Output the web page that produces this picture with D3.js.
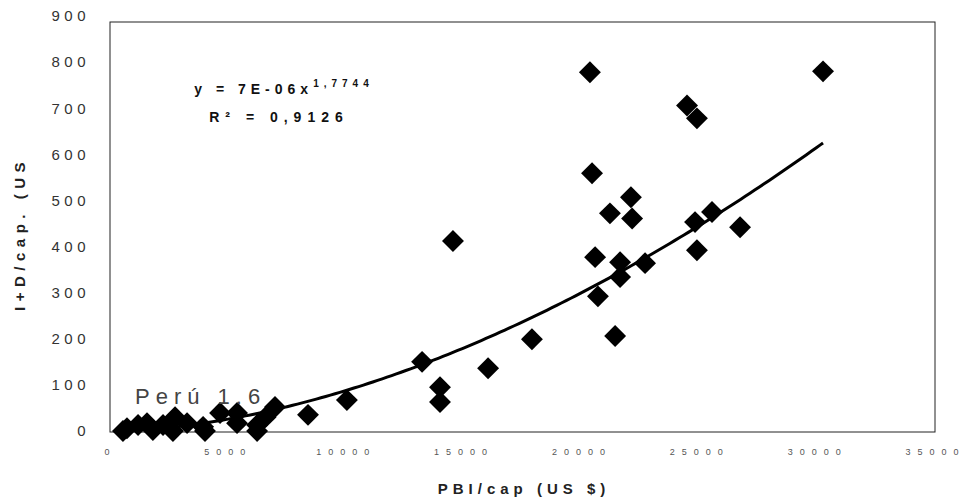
<!DOCTYPE html>
<html>
<head>
<meta charset="utf-8">
<script src="https://cdn.jsdelivr.net/npm/d3@7"></script>
<style>
body { margin: 0; background: #fff; }
svg { display: block; font-family: Arial, "Liberation Sans", sans-serif; }
</style>
</head>
<body>
<svg width="967" height="504"></svg>
<script>
// values (PBI per capita vs I+D per capita)
var pbi = [550, 720, 1190, 1570, 1820, 2250, 2670, 2760, 3270, 3950, 4030, 4670, 5390, 5390, 6240, 6240, 6600, 7000,
           8400, 10050, 13240, 14000, 14000, 14550, 16040, 17900,
           20360, 20450, 20580, 20700, 21210, 21430, 21640, 21640, 22100, 22150, 22700,
           24480, 24900, 24820, 24900, 25540, 26730, 30250];
var imasd = [0, 6, 13, 17, 2, 13, 0, 30, 17, 9, 0, 39, 39, 17, 13, 0, 30, 52,
             35, 67, 150, 95, 63, 412, 136, 199,
             778, 559, 377, 292, 472, 206, 366, 334, 507, 461, 364,
             706, 678, 453, 392, 475, 442, 780];
var xTicks = [0, 5000, 10000, 15000, 20000, 25000, 30000, 35000];
var yTicks = [0, 100, 200, 300, 400, 500, 600, 700, 800, 900];

// power trendline printed on the chart
var trendA = 7e-6, trendB = 1.7744;
var eqMain = "y = 7E-06x", eqExp = "1,7744", r2Text = "R\u00b2 = 0,9126";
var peruLabel = "Perú 1.6";

var svg = d3.select("svg"),
    margin = {top: 22, right: 32, bottom: 72, left: 110},
    width = +svg.attr("width") - margin.left - margin.right,
    height = +svg.attr("height") - margin.top - margin.bottom,
    g = svg.append("g").attr("transform", "translate(" + margin.left + "," + margin.top + ")");

var x = d3.scaleLinear().domain([0, 35000]).range([0, width]);
var y = d3.scaleLinear().domain([0, 900]).range([height - 1, -6]);

var data = pbi.map(function(d, i) { return {x: d, y: imasd[i]}; });

// plot frame
g.append("rect")
    .attr("x", 0).attr("y", 0)
    .attr("width", width).attr("height", height)
    .attr("fill", "none")
    .attr("stroke", "#222")
    .attr("stroke-width", 1);

// y axis labels
var yAxis = g.append("g")
    .call(d3.axisLeft(y).tickValues(yTicks).tickSize(0).tickPadding(20));
yAxis.select(".domain").remove();
yAxis.selectAll("text")
    .attr("font-size", 15)
    .attr("letter-spacing", 4.5)
    .attr("fill", "#333")
    .attr("font-family", "Arial, 'Liberation Sans', sans-serif");

// x axis labels (tiny, spaced out)
var xAxis = g.append("g")
    .attr("transform", "translate(0," + height + ")")
    .call(d3.axisBottom(x).tickValues(xTicks).tickSize(0).tickPadding(17).tickFormat(d3.format("d")));
xAxis.select(".domain").remove();
xAxis.selectAll("text")
    .attr("font-size", 9)
    .attr("letter-spacing", 7)
    .attr("fill", "#555")
    .attr("font-family", "Arial, 'Liberation Sans', sans-serif");

// trendline y = a x^b over the data range
var xs = d3.extent(pbi);
var trend = d3.range(xs[0], xs[1], 200).concat([xs[1]])
    .map(function(v) { return {x: v, y: trendA * Math.pow(v, trendB)}; });

g.append("path")
    .datum(trend)
    .attr("fill", "none")
    .attr("stroke", "#000")
    .attr("stroke-width", 3)
    .attr("d", d3.line()
        .x(function(d) { return x(d.x); })
        .y(function(d) { return y(d.y); }));

// diamonds
var diamond = d3.symbol().type(d3.symbolSquare).size(240);
g.selectAll(".pt")
    .data(data)
    .enter().append("path")
      .attr("class", "pt")
      .attr("fill", "#000")
      .attr("d", diamond)
      .attr("transform", function(d) { return "translate(" + x(d.x) + "," + y(d.y) + ") rotate(45)"; });

// equation
var eq = svg.append("text")
    .attr("x", 284).attr("y", 94)
    .attr("text-anchor", "middle")
    .attr("font-size", 14)
    .attr("font-weight", "bold")
    .attr("letter-spacing", 5)
    .attr("fill", "#111");
eq.append("tspan").text(eqMain);
eq.append("tspan").attr("font-size", 10).attr("dy", -7).text(eqExp);

svg.append("text")
    .attr("x", 279).attr("y", 122)
    .attr("text-anchor", "middle")
    .attr("font-size", 14)
    .attr("font-weight", "bold")
    .attr("letter-spacing", 6)
    .attr("fill", "#111")
    .text(r2Text);

// Peru annotation
svg.append("text")
    .attr("x", 135).attr("y", 404)
    .attr("font-size", 22)
    .attr("letter-spacing", 6)
    .attr("fill", "#444")
    .text(peruLabel);

// axis titles
svg.append("text")
    .attr("transform", "translate(25,234) rotate(-90)")
    .attr("text-anchor", "middle")
    .attr("font-size", 15)
    .attr("font-weight", "bold")
    .attr("letter-spacing", 5.5)
    .attr("fill", "#222")
    .text("I+D/cap. (US");

svg.append("text")
    .attr("x", 524).attr("y", 494)
    .attr("text-anchor", "middle")
    .attr("font-size", 15)
    .attr("font-weight", "bold")
    .attr("letter-spacing", 5)
    .attr("fill", "#222")
    .text("PBI/cap (US $)");
</script>
</body>
</html>
